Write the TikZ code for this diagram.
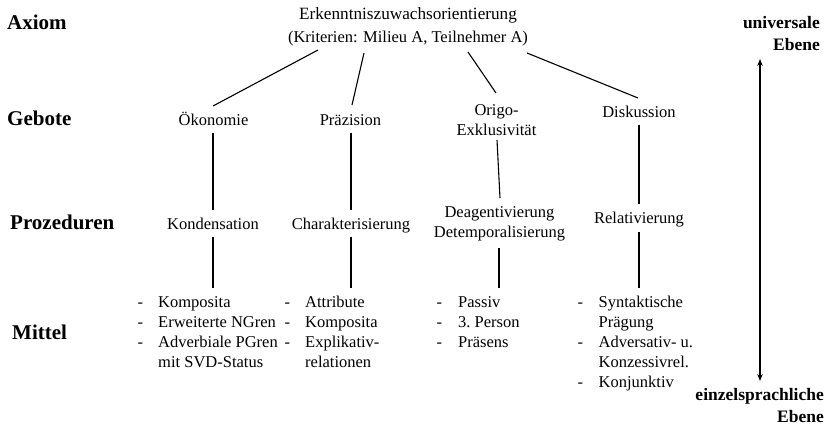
\documentclass[tikz,border=0pt]{standalone}
\usepackage{fontspec}
\setmainfont{Liberation Serif}
\usetikzlibrary{arrows.meta,calc}
\begin{document}
\begin{tikzpicture}[x=1pt,y=-1pt,
  txt/.style={inner sep=0pt, anchor=base, font=\fontsize{16.5}{20}\selectfont},
  lvl/.style={inner sep=0pt, anchor=base west, font=\fontsize{21}{24}\selectfont\bfseries},
  side/.style={inner sep=0pt, anchor=base east, font=\fontsize{17.5}{21.5}\selectfont\bfseries},
  lst/.style={inner sep=0pt, anchor=base west, font=\fontsize{16.5}{20}\selectfont},
  conn/.style={line width=1.1pt},
  dbl/.style={line width=1.2pt, {Stealth[length=7pt,width=5.5pt]}-{Stealth[length=7pt,width=5.5pt]}}]
\useasboundingbox[fill=white] (0,0) rectangle (830,427);

% level labels
\node[lvl] (lax) at (7,30) {Axiom};
\node[lvl] (lgeb) at (7,126) {Gebote};
\node[lvl] (lproz) at (10,230) {Prozeduren};
\node[lvl] (lmit) at (12,340) {Mittel};

% side labels
\node[side] (univ) at (820,29) {\begin{tabular}[t]{@{}r@{}}universale\\Ebene\end{tabular}};
\node[side] (einz) at (824,401) {\begin{tabular}[t]{@{}r@{}}einzelsprachliche\\Ebene\end{tabular}};

% axiom
\node[txt,font=\fontsize{16.5}{23}\selectfont] (top) at (408,19.5) {\begin{tabular}[t]{@{}c@{}}{\fontsize{17.2}{23}\selectfont Erkenntniszuwachsorientierung}\\(Kriterien: Milieu A, Teilnehmer A)\end{tabular}};

% gebote
\node[txt] (oek) at (213.5,125.5) {Ökonomie};
\node[txt] (prae) at (350.5,125.5) {Präzision};
\node[txt] (origo) at (496.5,116) {\begin{tabular}[t]{@{}c@{}}Origo-\\Exklusivität\end{tabular}};
\node[txt] (disk) at (639,118) {Diskussion};

% prozeduren
\node[txt] (kond) at (213,230) {Kondensation};
\node[txt] (char) at (351,229.5) {Charakterisierung};
\node[txt] (deag) at (499.5,218) {\begin{tabular}[t]{@{}c@{}}Deagentivierung\\Detemporalisierung\end{tabular}};
\node[txt] (rel) at (639,224) {Relativierung};

% mittel
\node[lst] (m1) at (137.5,308) {\begin{tabular}[t]{@{}p{20.5pt}@{}l@{}}
-&Komposita\\-&Erweiterte NGren\\-&Adverbiale PGren\\&mit SVD-Status\end{tabular}};
\node[lst] (m2) at (284.5,308) {\begin{tabular}[t]{@{}p{20.5pt}@{}l@{}}
-&Attribute\\-&Komposita\\-&Explikativ-\\&relationen\end{tabular}};
\node[lst] (m3) at (436.5,308) {\begin{tabular}[t]{@{}p{21.5pt}@{}l@{}}
-&Passiv\\-&3.\ Person\\-&Präsens\end{tabular}};
\node[lst] (m4) at (577.5,308) {\begin{tabular}[t]{@{}p{21pt}@{}l@{}}
-&Syntaktische\\&Prägung\\-&Adversativ- u.\\&Konzessivrel.\\-&Konjunktiv\end{tabular}};

% axiom -> gebote
\draw[conn] ($(top.base)+(-90,30.5)$) -- ($(oek.base)+(-0.5,-19.5)$);
\draw[conn] ($(top.base)+(-44,33.5)$) -- ($(prae.base)+(1.5,-20.5)$);
\draw[conn] ($(top.base)+(60,32.5)$) -- ($(origo.base)+(-0.5,-23)$);
\draw[conn] ($(top.base)+(119,33.5)$) -- ($(disk.base)+(-1,-20)$);

% gebote -> prozeduren
\draw[conn] ($(oek.base)+(-0.5,7.5)$) -- ($(kond.base)+(0,-20)$);
\draw[conn] ($(prae.base)+(0.5,7.5)$) -- ($(char.base)+(0,-19.5)$);
\draw[conn] ($(origo.base)+(0.5,24)$) -- ($(deag.base)+(0.5,-20)$);
\draw[conn] ($(disk.base)+(0,7)$) -- ($(rel.base)+(0,-20)$);

% prozeduren -> mittel
\draw[conn] ($(kond.base)+(0,7)$) -- ($(m1.base west)+(75.5,-20)$);
\draw[conn] ($(char.base)+(0,7.5)$) -- ($(m2.base west)+(66.5,-20)$);
\draw[conn] ($(deag.base)+(-0.5,30)$) -- ($(m3.base west)+(62.5,-20)$);
\draw[conn] ($(rel.base)+(0,8)$) -- ($(m4.base west)+(61.5,-20)$);

% level arrow
\draw[dbl] ($(univ.base east)+(-60,30)$) -- ($(einz.base east)+(-64,-20)$);
\end{tikzpicture}
\end{document}
